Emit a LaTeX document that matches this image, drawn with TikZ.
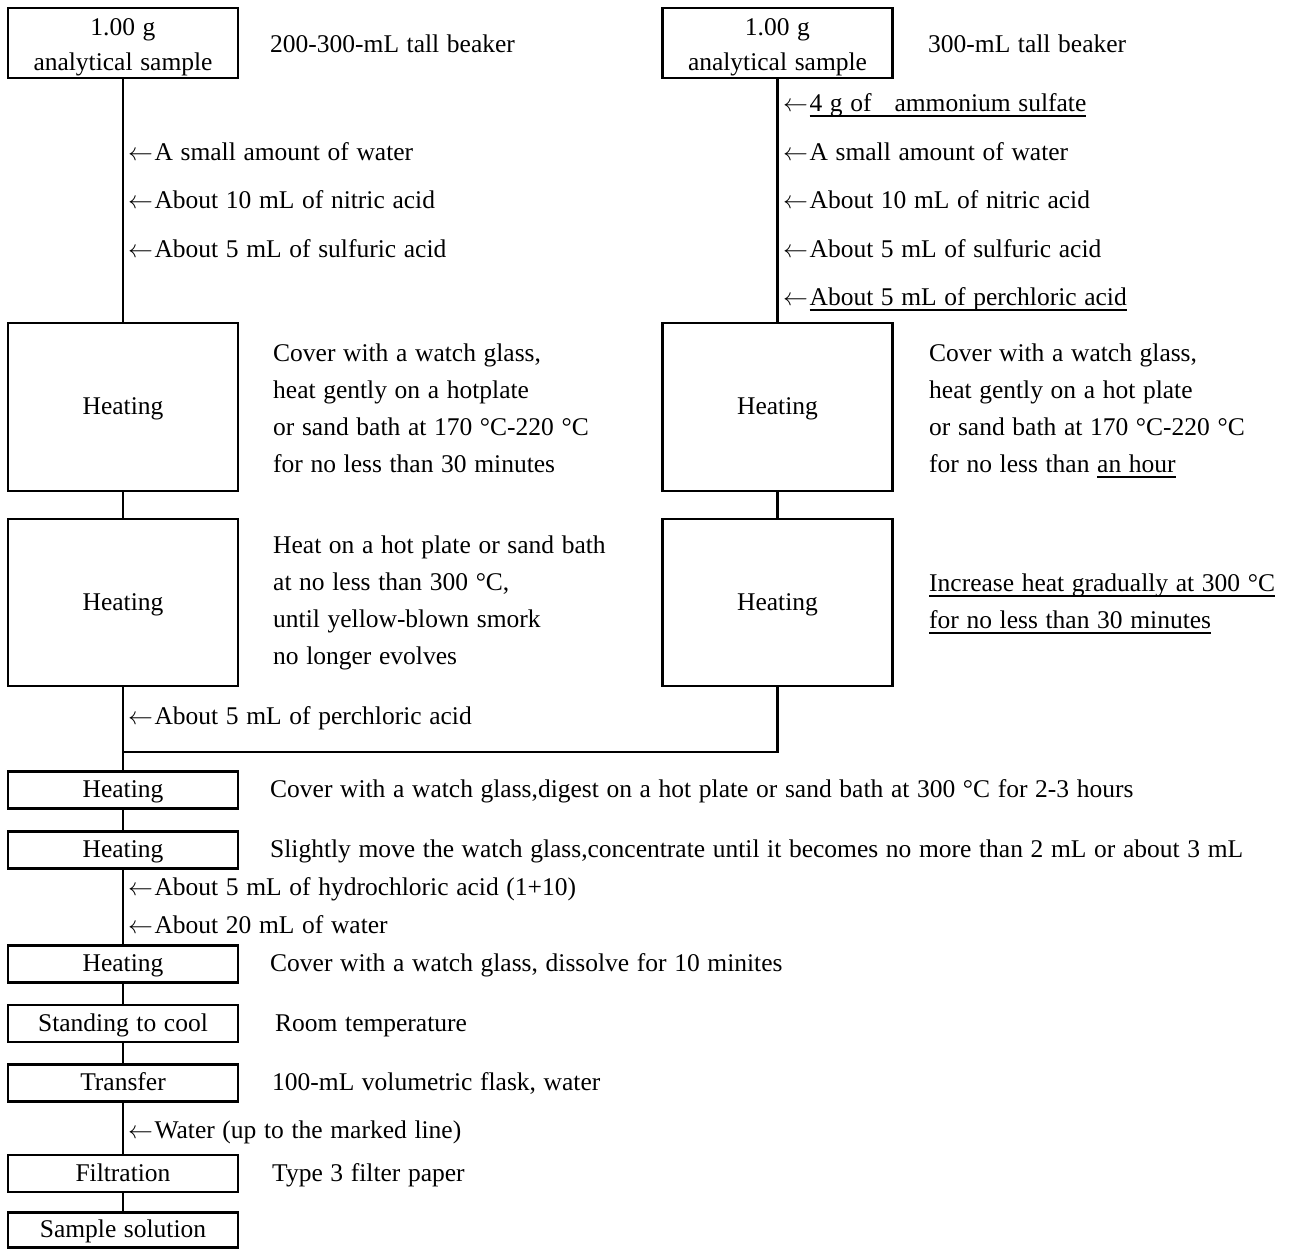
\documentclass[tikz,border=0pt]{standalone}
\usepackage{fontspec}
\setmainfont[WordSpace=1.2]{Liberation Serif}
\newcommand{\myul}[1]{\setbox0\hbox{#1}\rlap{\rule[-5.5pt]{\wd0}{2pt}}\box0}
\newcommand{\la}{$\leftarrow$\kern1.5pt}
\begin{document}
\begin{tikzpicture}[x=1pt,y=-1pt,
  every node/.style={font=\fontsize{25.5}{37}\selectfont},
  box/.style={draw, line width=2.2pt, inner sep=0pt, minimum width=230pt, align=center},
  bigbox/.style={box, minimum height=168pt, text height=18pt, text depth=3pt},
  smallbox/.style={box, minimum height=37pt, text height=18pt, text depth=3pt},
  note/.style={anchor=west, inner sep=0pt, align=left},
  addlabel/.style={anchor=west, inner sep=0pt, text height=18pt, text depth=3pt},
  link/.style={line width=2.2pt}]
\useasboundingbox (0,0) rectangle (1290,1249);

% left column
\node[box, minimum height=70pt, font=\fontsize{25.5}{35}\selectfont] (lt) at (123,43) {\rule{0pt}{26pt}1.00 g\\analytical sample};
\node[addlabel] (ltn) at (270,45) {200-300-mL tall beaker};
\node[bigbox] (lh1) at (123,407) {Heating};
\node[bigbox, minimum height=167pt] (lh2) at (123,602.5) {Heating};
\node[note] (lh1n) at (273,408) {Cover with a watch glass,\\heat gently on a hotplate\\or sand bath at 170 °C-220 °C\\for no less than 30 minutes};
\node[note] (lh2n) at (273,602.5) {Heat on a hot plate or sand bath\\at no less than 300 °C,\\until yellow-blown smork\\no longer evolves};
\node[addlabel] (la1) at (128,153) {\la A small amount of water};
\node[addlabel] (la2) at (128,201) {\la About 10 mL of nitric acid};
\node[addlabel] (la3) at (128,250) {\la About 5 mL of sulfuric acid};

% right column
\node[box, minimum height=70pt, font=\fontsize{25.5}{35}\selectfont] (rt) at (777.5,43) {\rule{0pt}{26pt}1.00 g\\analytical sample};
\node[addlabel] (rtn) at (928,45) {300-mL tall beaker};
\node[bigbox] (rh1) at (777.5,407) {Heating};
\node[bigbox, minimum height=167pt] (rh2) at (777.5,602.5) {Heating};
\node[note] (rh1n) at (929,411) {Cover with a watch glass,\\heat gently on a hot plate\\or sand bath at 170 °C-220 °C\\for no less than \myul{an hour}};
\node[note] (rh2n) at (929,603.5) {\myul{Increase heat gradually at 300 °C}\\\myul{for no less than 30 minutes}};
\node[addlabel] (ra0) at (783,104) {\la\myul{4 g of\ \ \ ammonium sulfate}};
\node[addlabel] (ra1) at (783,153) {\la A small amount of water};
\node[addlabel] (ra2) at (783,201) {\la About 10 mL of nitric acid};
\node[addlabel] (ra3) at (783,250) {\la About 5 mL of sulfuric acid};
\node[addlabel] (ra4) at (783,298) {\la\myul{About 5 mL of perchloric acid}};

% lower chain
\node[addlabel] (lp) at (128,717) {\la About 5 mL of perchloric acid};
\coordinate (jl) at (123,752);
\node[smallbox] (s1) at (123,790) {Heating};
\node[smallbox] (s2) at (123,850) {Heating};
\node[smallbox] (s3) at (123,964) {Heating};
\node[smallbox] (s4) at (123,1023.5) {Standing to cool};
\node[smallbox] (s5) at (123,1083) {Transfer};
\node[smallbox] (s6) at (123,1173.5) {Filtration};
\node[smallbox, minimum height=35pt] (s7) at (123,1230) {Sample solution};

\node[addlabel] (s1n) at (270,790) {Cover with a watch glass,digest on a hot plate or sand bath at 300 °C for 2-3 hours};
\node[addlabel] (s2n) at (270,850) {Slightly move the watch glass,concentrate until it becomes no more than 2 mL or about 3 mL};
\node[addlabel] (b1) at (128,888) {\la About 5 mL of hydrochloric acid (1+10)};
\node[addlabel] (b2) at (128,926) {\la About 20 mL of water};
\node[addlabel] (s3n) at (270,964) {Cover with a watch glass, dissolve for 10 minites};
\node[addlabel] (s4n) at (275,1023.5) {Room temperature};
\node[addlabel] (s5n) at (272,1083) {100-mL volumetric flask, water};
\node[addlabel] (b3) at (128,1131) {\la Water (up to the marked line)};
\node[addlabel] (s6n) at (272,1173.5) {Type 3 filter paper};

% connectors
\draw[link] (lt) -- (lh1);
\draw[link] (lh1) -- (lh2);
\draw[link] (lh2) -- (s1);
\draw[link] (rt) -- (rh1);
\draw[link] (rh1) -- (rh2);
\draw[link] (rh2.south) |- (jl);
\draw[link] (s1) -- (s2);
\draw[link] (s2) -- (s3);
\draw[link] (s3) -- (s4);
\draw[link] (s4) -- (s5);
\draw[link] (s5) -- (s6);
\draw[link] (s6) -- (s7);
\end{tikzpicture}
\end{document}
